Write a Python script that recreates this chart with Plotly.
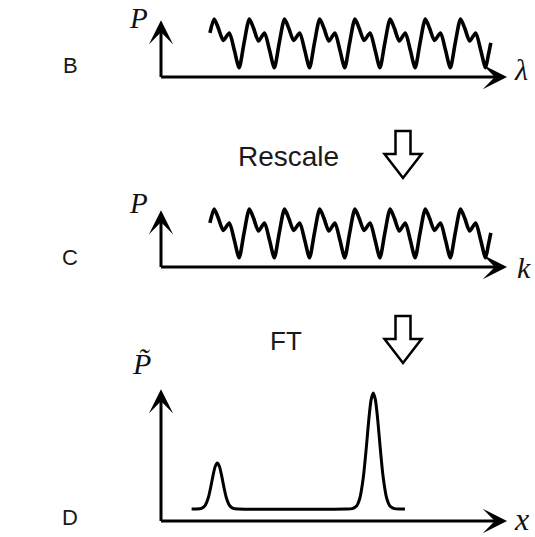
import plotly.graph_objects as go

W, H = 535, 537

# ---- data ----
# Panel B: P(lambda); Panel C: P(k) — same oscillation after rescaling
wave_x = [1.39,
          1.51, 1.63, 1.77, 1.94, 2.08, 2.22, 2.36,
          2.51, 2.63, 2.77, 2.94, 3.08, 3.22, 3.36,
          3.51, 3.63, 3.77, 3.94, 4.08, 4.22, 4.36,
          4.51, 4.63, 4.77, 4.94, 5.08, 5.22, 5.36,
          5.51, 5.63, 5.77, 5.94, 6.08, 6.22, 6.36,
          6.51, 6.63, 6.77, 6.94, 7.08, 7.22, 7.36,
          7.51, 7.63, 7.77, 7.94, 8.08, 8.22, 8.36,
          8.51, 8.63, 8.77, 8.94, 9.08, 9.22, 9.30,
          9.37]
wave_y = [0.76,
          1.00, 0.84, 0.63, 0.76, 0.47, 0.16, 0.59,
          1.00, 0.84, 0.62, 0.76, 0.47, 0.16, 0.59,
          1.00, 0.84, 0.63, 0.76, 0.47, 0.16, 0.59,
          1.00, 0.84, 0.62, 0.76, 0.47, 0.16, 0.59,
          1.00, 0.84, 0.63, 0.76, 0.47, 0.16, 0.59,
          1.00, 0.84, 0.62, 0.76, 0.47, 0.16, 0.59,
          1.00, 0.84, 0.63, 0.76, 0.47, 0.16, 0.59,
          1.00, 0.84, 0.62, 0.76, 0.47, 0.16, 0.38,
          0.59]
k_x = list(wave_x)
k_y = list(wave_y)

# Panel D: Fourier transform P~(x)
ft_x = [0.87, 1.00, 1.15, 1.25, 1.35, 1.42, 1.48, 1.54, 1.60, 1.66, 1.72, 1.78,
        1.85, 1.95, 2.05, 2.20, 5.25, 5.43, 5.55, 5.65, 5.75, 5.83, 5.90, 5.97,
        6.03, 6.09, 6.16, 6.23, 6.31, 6.41, 6.51, 6.63, 6.80, 6.93]
ft_y = [0.094, 0.094, 0.099, 0.120, 0.188, 0.274, 0.358, 0.426, 0.453, 0.426,
        0.358, 0.274, 0.188, 0.120, 0.099, 0.094, 0.094, 0.097, 0.115, 0.180,
        0.346, 0.565, 0.782, 0.948, 1.000, 0.948, 0.782, 0.565, 0.346, 0.180,
        0.115, 0.097, 0.094, 0.094]

panel_letters = ["B", "C", "D"]
y_labels = ["<i>P</i>", "<i>P</i>", "<i>P\u0303</i>"]
x_labels = ["<i>λ</i>", "<i>k</i>", "<i>x</i>"]
step_labels = ["Rescale", "FT"]

# ---- layout helpers (pixel geometry of each panel) ----
panels = [
    dict(ox=161, oy=77, sx=35.2, sy=58.0, xtip=9.83, ytip=0.98),
    dict(ox=161, oy=267, sx=35.2, sy=58.0, xtip=9.83, ytip=0.98),
    dict(ox=161, oy=521, sx=35.2, sy=128.0, xtip=9.83, ytip=1.03),
]


def paper(px, py):
    return px / W, 1 - py / H


fig = go.Figure()
series = [(wave_x, wave_y, 3.6), (k_x, k_y, 3.6), (ft_x, ft_y, 3.0)]
annotations = []
shapes = []
for i, (p, (xs, ys, lw)) in enumerate(zip(panels, series), start=1):
    xa = "x" if i == 1 else f"x{i}"
    ya = "y" if i == 1 else f"y{i}"
    fig.add_trace(go.Scatter(x=xs, y=ys, mode="lines", xaxis=xa, yaxis=ya,
                             line=dict(color="black", width=lw, shape="spline", smoothing=0.7),
                             hoverinfo="skip", showlegend=False))
    xr = [-p["ox"] / p["sx"], (W - p["ox"]) / p["sx"]]
    yr = [(p["oy"] - H) / p["sy"], p["oy"] / p["sy"]]
    key = "" if i == 1 else str(i)
    fig.update_layout(**{
        f"xaxis{key}": dict(domain=[0, 1], range=xr, visible=False, fixedrange=True,
                            anchor=ya),
        f"yaxis{key}": dict(domain=[0, 1], range=yr, visible=False, fixedrange=True,
                            anchor=xa),
    })
    # axis arrows
    common = dict(xref=xa, yref=ya, axref=xa, ayref=ya, showarrow=True, text="",
                  arrowhead=3, arrowsize=1.35, arrowwidth=3, arrowcolor="black",
                  standoff=0, startstandoff=0)
    annotations.append(dict(x=p["xtip"], y=0, ax=-1.5 / p["sx"], ay=0, **common))
    annotations.append(dict(x=0, y=p["ytip"], ax=0, ay=-1.5 / p["sy"], **common))

# text labels
sans = dict(family="Liberation Sans, Arial", color="#1a1a1a")
serif = dict(family="Liberation Serif, Times New Roman", color="#111111")


def label(text, px, py, font, size, yanchor="middle"):
    x, y = paper(px, py)
    annotations.append(dict(x=x, y=y, xref="paper", yref="paper", text=text,
                            showarrow=False, xanchor="center", yanchor=yanchor,
                            font=dict(size=size, **font)))


for letter, py in zip(panel_letters, [65, 257, 517]):
    label(letter, 70, py, sans, 22)
label(step_labels[0], 288, 156, sans, 28)
label(step_labels[1], 286, 341, sans, 26)

label(y_labels[0], 138, 0, serif, 29, yanchor="top")
label(y_labels[1], 138, 203, serif, 29)
label(y_labels[2], 141, 363, serif, 30)
label(x_labels[0], 521, 70, serif, 30)
label(x_labels[1], 524, 268, serif, 30)
label(x_labels[2], 521, 519, serif, 32)

# hollow down arrows
for cx, top, tip in [(403, 131, 178), (403, 316, 363)]:
    pts = [(cx - 7.5, top), (cx + 7.5, top), (cx + 7.5, top + 23), (cx + 18.5, top + 23),
           (cx, tip), (cx - 18.5, top + 23), (cx - 7.5, top + 23)]
    path = "M " + " L ".join(f"{px / W:.5f},{1 - py / H:.5f}" for px, py in pts) + " Z"
    shapes.append(dict(type="path", xref="paper", yref="paper", path=path,
                       line=dict(color="black", width=2.5), fillcolor="white"))

fig.update_layout(width=W, height=H, margin=dict(l=0, r=0, t=0, b=0, pad=0),
                  paper_bgcolor="white", plot_bgcolor="rgba(0,0,0,0)",
                  annotations=annotations, shapes=shapes, showlegend=False)

fig.write_html("out.html", config={"displayModeBar": False},
               post_script="document.body.style.margin='0';document.body.style.overflow='hidden';")
